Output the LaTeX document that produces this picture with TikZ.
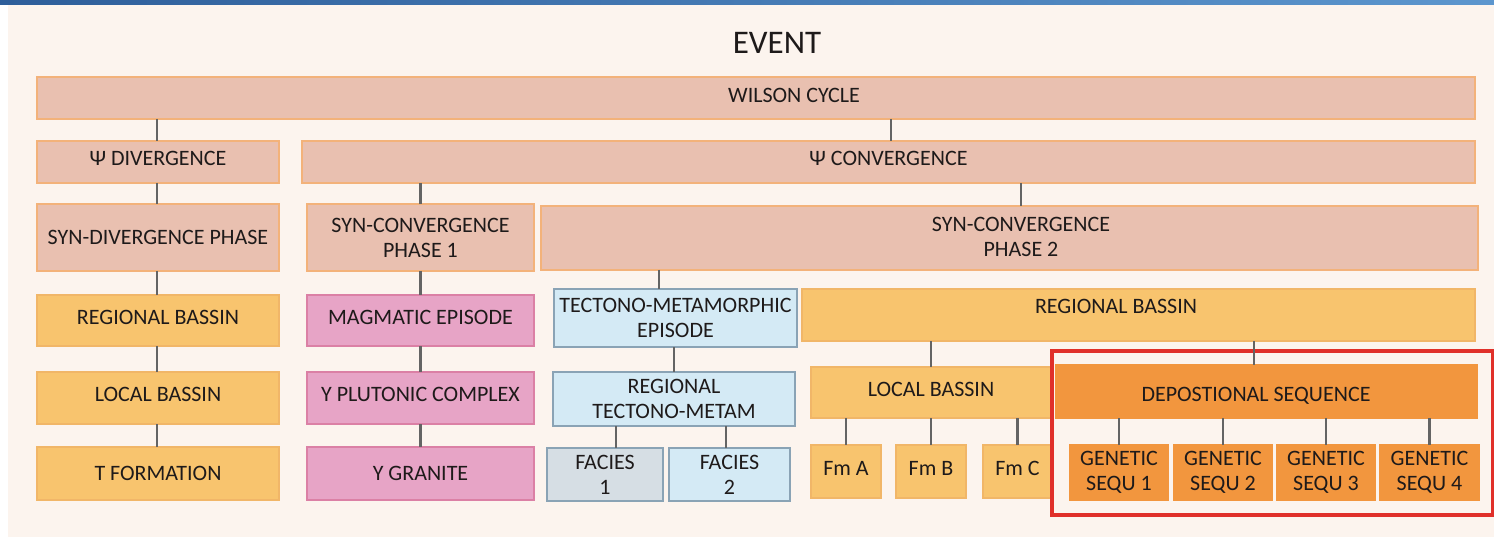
\documentclass[tikz,border=0pt]{standalone}
\usepackage{fontspec}
\setmainfont{Carlito}
\definecolor{bgc}{RGB}{252,244,238}
\definecolor{rosef}{RGB}{233,192,176}
\definecolor{rosed}{RGB}{243,178,122}
\definecolor{orf}{RGB}{248,196,110}
\definecolor{ord}{RGB}{241,182,104}
\definecolor{pinkf}{RGB}{231,164,198}
\definecolor{pinkd}{RGB}{219,128,165}
\definecolor{bluef}{RGB}{212,234,245}
\definecolor{blued}{RGB}{138,163,181}
\definecolor{grayf}{RGB}{214,222,228}
\definecolor{dorf}{RGB}{242,150,62}
\definecolor{redc}{RGB}{224,48,42}
\definecolor{connc}{RGB}{100,100,100}
\definecolor{txtc}{RGB}{30,26,26}
\definecolor{bandl}{RGB}{46,94,154}
\definecolor{bandr}{RGB}{92,150,206}
\newcommand\mybox[7]{\node[#1, anchor=north west, minimum width={(#5-#3)*1pt}, minimum height={(#6-#4)*1pt}] (#2) at (#3,#4) {#7};}
\begin{document}
\begin{tikzpicture}[x=1pt,y=-1pt,
  base/.style={line width=1.3pt, inner sep=0pt, outer sep=0pt, text=txtc, align=center, font=\fontsize{22}{25}\selectfont},
  one/.style={text height=14.2pt, text depth=7pt},
  onec/.style={text height=14.2pt, text depth=1pt},
  rosebox/.style={base, draw=rosed, fill=rosef},
  orbox/.style={base, draw=ord, fill=orf},
  pinkbox/.style={base, draw=pinkd, fill=pinkf},
  bluebox/.style={base, draw=blued, fill=bluef},
  graybox/.style={base, draw=blued, fill=grayf},
  dorbox/.style={base, draw=dorf, fill=dorf},
  txt/.style={inner sep=0pt, outer sep=0pt, text=txtc, align=center, font=\fontsize{22}{25}\selectfont, text height=14.2pt, text depth=0pt},
  txtm/.style={inner sep=0pt, outer sep=0pt, text=txtc, align=center, font=\fontsize{22}{25}\selectfont},
  conn/.style={draw=connc, line width=2.2pt}]
\useasboundingbox (0,0) rectangle (1494,537);
% background
\fill[white] (0,0) rectangle (1494,537);
\fill[bgc] (8,5) rectangle (1494,537);
\shade[left color=bandl, right color=bandr] (0,0) rectangle (1494,5);
% title
\node[inner sep=0pt, text=txtc, font=\fontsize{33}{36}\selectfont, text height=21.3pt, text depth=0pt] (event) at (777,43) {EVENT};
% level 1-2
\mybox{rosebox}{wilson}{37}{77}{1475}{119}{}
\node[txt] (wilsonT) at (794,95) {WILSON CYCLE};
\mybox{rosebox,one}{div}{37}{141}{279}{183}{Ψ DIVERGENCE}
\mybox{rosebox,one}{conv}{302}{141}{1475}{183}{Ψ CONVERGENCE}
% level 3
\mybox{rosebox}{syndiv}{37}{204}{279}{271}{SYN-DIVERGENCE PHASE}
\mybox{rosebox}{ph1}{307}{204}{534}{271}{SYN-CONVERGENCE\\PHASE 1}
\mybox{rosebox}{ph2}{541}{206}{1478}{270}{}
\node[txtm] (ph2T) at (1021,237) {SYN-CONVERGENCE\\PHASE 2};
% left column
\mybox{orbox,one}{regb1}{37}{295}{279}{346}{REGIONAL BASSIN}
\mybox{orbox,one}{locb1}{37}{372}{279}{424}{LOCAL BASSIN}
\mybox{orbox,onec}{tform}{37}{447}{279}{500}{T FORMATION}
% magmatic column
\mybox{pinkbox,one}{magma}{307}{295}{534}{346}{MAGMATIC EPISODE}
\mybox{pinkbox,one}{plut}{307}{372}{534}{424}{Y PLUTONIC COMPLEX}
\mybox{pinkbox,onec}{gran}{307}{447}{534}{500}{Y GRANITE}
% tectono column
\mybox{bluebox}{tecto}{554}{289}{797}{347}{TECTONO-METAMORPHIC\\EPISODE}
\mybox{bluebox}{regt}{553}{372}{795}{426}{REGIONAL\\TECTONO-METAM}
\mybox{graybox}{fac1}{547}{448}{663}{501}{FACIES\\1}
\mybox{bluebox}{fac2}{669}{448}{790}{501}{FACIES\\2}
% basin column
\mybox{orbox}{regb2}{802}{289}{1475}{341}{}
\node[txt] (regb2T) at (1116,306.5) {REGIONAL BASSIN};
\mybox{orbox,one}{locb2}{811}{367}{1051}{418}{LOCAL BASSIN}
\mybox{orbox,one}{fma}{811}{445}{881}{498}{Fm A}
\mybox{orbox,one}{fmb}{896}{445}{966}{498}{Fm B}
\mybox{orbox,one}{fmc}{983}{445}{1052}{498}{Fm C}
% highlighted frame
\draw[redc, line width=3.2pt, fill=bgc] (1052,351) rectangle (1492.4,515);
\mybox{dorbox}{dep}{1056}{365}{1477}{418}{}
\node[txt] (depT) at (1256,394) {DEPOSTIONAL SEQUENCE};
\mybox{dorbox}{gs1}{1070}{445}{1168}{500}{GENETIC\\SEQU 1}
\mybox{dorbox}{gs2}{1174}{445}{1272}{500}{GENETIC\\SEQU 2}
\mybox{dorbox}{gs3}{1277}{445}{1375}{500}{GENETIC\\SEQU 3}
\mybox{dorbox}{gs4}{1380}{445}{1479}{500}{GENETIC\\SEQU 4}
% connector x positions
\coordinate (xa) at (891,0);
\coordinate (xb) at (1021,0);
\coordinate (xc) at (659,0);
\coordinate (xd) at (616,0);
\coordinate (xe) at (726,0);
\coordinate (xf) at (1254,0);
\coordinate (xg) at (157,0);
% connectors
\draw[conn] (wilson.south -| xg) -- (div.north -| xg);
\draw[conn] (wilson.south -| xa) -- (conv.north -| xa);
\draw[conn] (div.south -| xg) -- (syndiv.north -| xg);
\draw[conn] (conv.south -| ph1.north) -- (ph1.north);
\draw[conn] (conv.south -| xb) -- (ph2.north -| xb);
\draw[conn] (syndiv.south -| xg) -- (regb1.north -| xg);
\draw[conn] (regb1.south -| xg) -- (locb1.north -| xg);
\draw[conn] (locb1.south -| xg) -- (tform.north -| xg);
\draw[conn] (ph1.south) -- (magma.north);
\draw[conn] (magma.south) -- (plut.north);
\draw[conn] (plut.south) -- (gran.north);
\draw[conn] (ph2.south -| xc) -- (tecto.north -| xc);
\draw[conn] (tecto.south -| regt.north) -- (regt.north);
\draw[conn] (regt.south -| xd) -- (fac1.north -| xd);
\draw[conn] (regt.south -| xe) -- (fac2.north -| xe);
\draw[conn] (regb2.south -| locb2.north) -- (locb2.north);
\draw[conn] (regb2.south -| xf) -- (dep.north -| xf);
\draw[conn] (locb2.south -| fma.north) -- (fma.north);
\draw[conn] (locb2.south -| fmb.north) -- (fmb.north);
\draw[conn] (locb2.south -| fmc.north) -- (fmc.north);
\draw[conn] (dep.south -| gs1.north) -- (gs1.north);
\draw[conn] (dep.south -| gs2.north) -- (gs2.north);
\draw[conn] (dep.south -| gs3.north) -- (gs3.north);
\draw[conn] (dep.south -| gs4.north) -- (gs4.north);
\end{tikzpicture}
\end{document}
